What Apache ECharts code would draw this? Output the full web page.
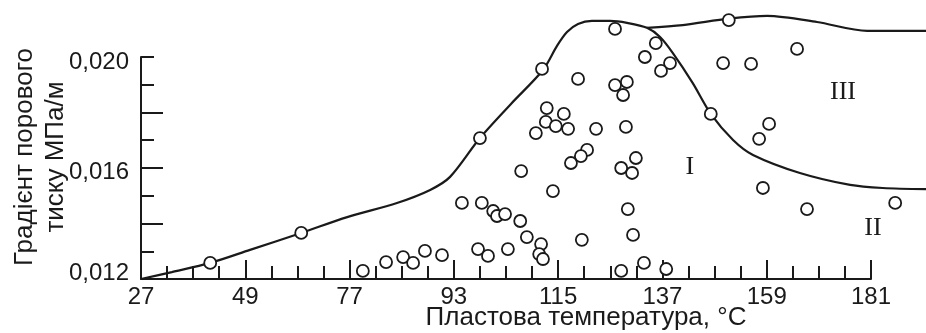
<!DOCTYPE html>
<html>
<head>
<meta charset="utf-8">
<script src="https://cdn.jsdelivr.net/npm/echarts@6/dist/echarts.min.js"></script>
<style>html,body{margin:0;padding:0;background:#fff}#c{width:926px;height:333px}</style>
</head>
<body>
<div id="c"></div>
<script>
// x axis: temperature, °C (axis drawn relative to the first tick, 27)
const X0 = 27;
const X_SPAN = 154;          // 27 … 181
const xTickLabels = ['27', '49', '77', '93', '115', '137', '159', '181'];
const yLabelValues = [0.012, 0.016, 0.020];

// measured points: temperature and pore pressure gradient
const pointT = [41.6, 60.8, 73.8, 78.7, 82.3, 84.4, 86.9, 90.5, 94.7, 98.9, 101.3, 102.1, 103.8, 107.0, 108.4,
  98.1, 100.2, 104.4, 111.4, 111.0, 111.8, 98.5, 107.2, 113.9, 111.6, 127.0, 151.0, 135.6, 133.3, 138.6,
  136.7, 119.2, 127.0, 129.5, 128.7, 112.6, 116.2, 112.4, 114.5, 117.1, 110.3, 123.0, 129.3, 147.2, 159.5,
  157.4, 149.8, 155.7, 165.4, 121.1, 119.8, 117.7, 131.4, 128.3, 130.6, 129.7, 130.8, 120.0, 158.2, 167.5,
  186.1, 128.3, 133.1, 137.8];
const pointG = [0.01258, 0.01366, 0.01229, 0.01261, 0.01279, 0.01258, 0.01301, 0.01286, 0.01474, 0.01474, 0.01445, 0.01427, 0.01434, 0.01409, 0.01351,
  0.01308, 0.01283, 0.01308, 0.01326, 0.01290, 0.01272, 0.01708, 0.01589, 0.01517, 0.01957, 0.02101, 0.02133, 0.02050, 0.02000, 0.01978,
  0.01950, 0.01921, 0.01899, 0.01910, 0.01863, 0.01816, 0.01795, 0.01766, 0.01751, 0.01741, 0.01726, 0.01741, 0.01748, 0.01795, 0.01759,
  0.01705, 0.01978, 0.01975, 0.02029, 0.01665, 0.01643, 0.01618, 0.01636, 0.01600, 0.01582, 0.01452, 0.01359, 0.01341, 0.01528, 0.01452,
  0.01474, 0.01229, 0.01258, 0.01236];

// boundary curve (lower-left envelope, peak, I / II boundary)
const curveAT = [27, 33.5, 41.6, 50.0, 60.8, 70.5, 81.0, 88.0, 92.2, 98.5, 105.05, 111.8, 114.76, 116.87, 119.19, 122.14, 125.94, 129.52, 133.74, 136.5, 139.2, 143.4, 147.2, 151.9, 156.1, 166.0, 176.6, 183.5, 192.6];
const curveAG = [0.01200, 0.01225, 0.01258, 0.01305, 0.01366, 0.01423, 0.01474, 0.01521, 0.01568, 0.01708, 0.01831, 0.01953, 0.02040, 0.02090, 0.02119, 0.02130, 0.02130, 0.02123, 0.02105, 0.02072, 0.02014, 0.01906, 0.01795, 0.01701, 0.01647, 0.01582, 0.01539, 0.01528, 0.01524];
// upper boundary of zone III
const curveBT = [133.7, 141.3, 151.0, 159.1, 169.6, 180.2, 192.6];
const curveBG = [0.02105, 0.02115, 0.02138, 0.02148, 0.02126, 0.02094, 0.02094];

// zone labels
const zoneNames = ['I', 'II', 'III'];
const zoneT = [142.8, 181.4, 175.1];
const zoneG = [0.01604, 0.01384, 0.01874];

const INK = '#1a1a1a';
const FONT = 'Liberation Sans, Arial, sans-serif';

const GL = 141, GR = 55, GT = 57, GB = 54, W = 926;
const plotW = W - GL - GR;
const wideMax = X_SPAN * (W - GL) / plotW;   // same scale, reaching the right edge

const pts = pointT.map((t, i) => [t - X0, pointG[i]]);
const curveA = curveAT.map((t, i) => [t - X0, curveAG[i]]);
const curveB = curveBT.map((t, i) => [t - X0, curveBG[i]]);
const zones = zoneNames.map((n, i) => ({ name: n, value: [zoneT[i] - X0, zoneG[i]] }));

const chart = echarts.init(document.getElementById('c'), null, { renderer: 'canvas' });
chart.setOption({
  animation: false,
  backgroundColor: '#fff',
  grid: [
    { left: GL, right: GR, top: GT, bottom: GB, containLabel: false, outerBoundsMode: 'none' },
    { left: GL, right: 0, top: GT, bottom: GB, containLabel: false, outerBoundsMode: 'none' }
  ],
  xAxis: [{
    type: 'value', min: 0, max: X_SPAN, interval: 22, gridIndex: 0,
    name: 'Пластова температура, °C', nameLocation: 'middle', nameGap: 26, nameMoveOverlap: false,
    nameTextStyle: { color: INK, fontFamily: FONT, fontSize: 26, padding: [0, 0, 0, 160] },
    axisLine: { onZero: false, lineStyle: { color: INK, width: 2 } },
    axisTick: { inside: true, length: 19, lineStyle: { color: INK, width: 2 } },
    minorTick: { show: true, splitNumber: 4, length: 13, lineStyle: { color: INK, width: 2 } },
    splitLine: { show: false }, minorSplitLine: { show: false },
    axisLabel: { color: INK, fontFamily: FONT, fontSize: 24, margin: 6,
      formatter: v => xTickLabels[Math.round(v / 22)] || '' }
  }, {
    type: 'value', min: 0, max: wideMax, gridIndex: 1, show: false,
    splitLine: { show: false }
  }],
  yAxis: [{
    type: 'value', min: 0.012, max: 0.020, interval: 0.001, gridIndex: 0,
    name: 'Градієнт порового\nтиску МПа/м', nameLocation: 'middle', nameGap: 70, nameRotate: 90, nameMoveOverlap: false,
    nameTextStyle: { color: INK, fontFamily: FONT, fontSize: 26, lineHeight: 31, padding: [0, 0, 0, 22] },
    axisLine: { show: true, onZero: false, lineStyle: { color: INK, width: 2 } },
    axisTick: { inside: true, length: 13, lineStyle: { color: INK, width: 2 } },
    splitLine: { show: false },
    axisLabel: { color: INK, fontFamily: FONT, fontSize: 24, margin: 12,
      formatter: v => {
        const k = yLabelValues.findIndex(u => Math.abs(u - v) < 1e-7);
        if (k < 0) return '';
        return '{l' + k + '|' + yLabelValues[k].toFixed(3).replace('.', ',') + '}';
      },
      rich: {
        l0: { fontSize: 24, fontFamily: FONT, color: INK, padding: [0, 0, 12, 0] },
        l1: { fontSize: 24, fontFamily: FONT, color: INK, padding: [8, 0, 0, 0] },
        l2: { fontSize: 24, fontFamily: FONT, color: INK, padding: [10, 0, 0, 0] }
      } }
  }, {
    type: 'value', min: 0.012, max: 0.020, interval: 0.002, position: 'left', gridIndex: 0,
    axisLine: { show: false },
    axisTick: { show: true, inside: true, length: 22, customValues: [0.014, 0.016, 0.018], lineStyle: { color: INK, width: 2 } },
    axisLabel: { show: false }, splitLine: { show: false }
  }, {
    type: 'value', min: 0.012, max: 0.020, gridIndex: 1, show: false,
    splitLine: { show: false }
  }],
  series: [{
    type: 'line', data: curveA, xAxisIndex: 1, yAxisIndex: 2, smooth: 0.3, showSymbol: false, clip: false, z: 2,
    lineStyle: { color: INK, width: 2.2 }
  }, {
    type: 'line', data: curveB, xAxisIndex: 1, yAxisIndex: 2, smooth: 0.3, showSymbol: false, clip: false, z: 2,
    lineStyle: { color: INK, width: 2.2 }
  }, {
    type: 'scatter', data: pts, symbol: 'circle', symbolSize: 12, clip: false, z: 5,
    itemStyle: { color: '#fff', borderColor: INK, borderWidth: 1.8, opacity: 1 }
  }, {
    type: 'scatter', data: zones, symbolSize: 1, clip: false, z: 4, silent: true,
    itemStyle: { color: 'transparent', opacity: 1 },
    label: { show: true, position: 'inside', formatter: '{b}', color: INK,
      fontFamily: 'Liberation Serif, Times New Roman, serif', fontSize: 26 }
  }]
});
</script>
</body>
</html>
